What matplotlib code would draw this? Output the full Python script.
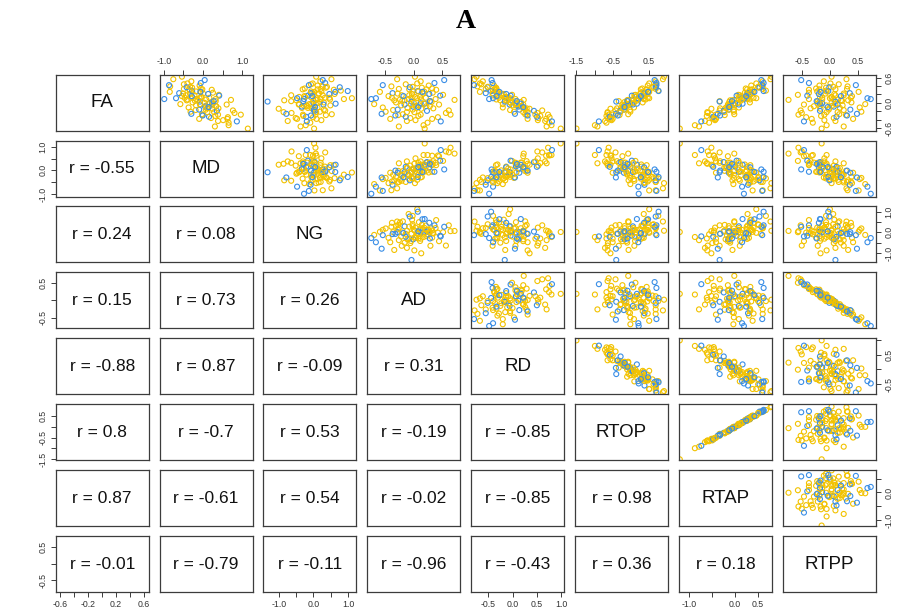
import matplotlib
matplotlib.use("Agg")
import matplotlib.pyplot as plt

# ---------------- data ----------------
var_names = ["FA", "MD", "NG", "AD", "RD", "RTOP", "RTAP", "RTPP"]

# 0 = yellow group, 1 = blue group
group = [0] * 60 + [1] * 20 + [0] * 20 + [1] * 5

FA = [0.12, -0.31, 0.33, -0.04, 0.21, -0.17, 0.46, -0.43, 0.02, 0.24,
      -0.18, 0.16, -0.53, 0.29, -0.11, 0.41, -0.27, 0.06, -0.34, 0.56,
      -0.07, 0.19, -0.38, 0.09, 0.07, -0.22, 0.36, -0.08, 0.26, -0.61,
      0.14, -0.29, 0.44, -0.13, 0.01, 0.31, -0.47, 0.18, -0.03, 0.11,
      -0.24, 0.39, -0.12, 0.27, -0.36, 0.04, 0.51, -0.21, 0.13, -0.06,
      0.34, -0.41, 0.06, 0.22, -0.14, 0.62, -0.28, 0.08, -0.56, 0.32,
      -0.01, 0.23, -0.19, 0.47, -0.04, 0.11, -0.33, 0.17, 0.37, -0.09,
      0.21, -0.26, 0.54, 0.03, -0.44, 0.28, -0.16, 0.42, -0.02, 0.09,
      0.08, -0.12, 0.18, -0.02, 0.27, -0.22, 0.05, -0.08, 0.14, -0.16,
      0.32, -0.03, 0.09, -0.28, 0.22, 0.00, -0.06, 0.38, -0.38, 0.12,
      -0.10, 0.16, 0.04, -0.30, 0.26]

MD = [0.16, 0.31, -0.49, 0.60, -0.33, -0.19, -0.40, 0.38, 0.22, 0.25,
      0.76, -0.54, 0.65, -0.34, -0.37, -0.09, -0.03, -0.14, 0.63, -0.76,
      0.07, 0.40, -0.10, -0.18, 0.71, 0.28, -0.28, 0.33, -0.85, 1.14,
      -0.04, -0.02, -0.49, 0.39, -0.27, 0.22, 0.65, -0.44, -0.58, -0.09,
      0.80, -0.84, 0.10, -0.06, 0.20, 0.32, -0.30, -0.32, -0.28, 0.22,
      -0.06, 0.51, -0.42, 0.00, 0.24, -0.54, 0.96, -0.40, 0.30, -0.35,
      0.16, -0.61, 0.35, -0.06, -0.07, -0.69, 0.15, 0.41, -0.42, 0.05,
      0.13, -0.30, 0.04, -0.08, 0.86, -0.28, -0.10, -0.87, 0.24, -0.99,
      0.08, 0.12, -0.22, 0.25, -0.18, 0.11, -0.21, 0.33, -0.05, 0.07,
      -0.02, -0.08, 0.32, 0.38, -0.51, 0.04, -0.18, -0.33, 0.62, -0.47,
      0.14, -0.29, 0.27, -0.01, -0.07]

NG = [0.33, -0.29, 0.21, -0.42, 0.61, 0.01, -0.02, -0.74, 0.20, -0.03,
      0.34, -0.26, -0.22, 0.79, 0.12, 0.12, 0.53, -0.49, -0.01, 0.52,
      -0.27, 0.01, -0.47, 0.88, 0.07, -0.86, 0.36, -0.18, 0.03, 0.02,
      -0.41, 0.36, -0.07, -0.05, 0.30, 0.59, -0.09, -0.64, -0.12, 1.11,
      -0.63, 0.27, -0.33, 0.23, -0.51, -0.64, 0.20, 0.19, -0.06, 0.49,
      -0.25, 0.23, -0.84, 0.16, -1.00, 0.08, 0.06, 0.48, -0.37, -0.31,
      0.00, -0.08, 0.04, 0.34, 0.29, -0.47, -0.21, -0.16, 0.76, -0.33,
      0.46, -0.78, 0.27, -1.32, -0.19, 0.99, 0.01, -0.13, 0.64, -0.27,
      0.12, -0.16, 0.27, -0.06, -0.07, 0.08, 0.00, 0.03, -0.24, 0.30,
      0.12, -0.41, 0.21, -0.30, 0.15, 0.12, -0.20, 0.39, 0.09, 0.46,
      0.05, -0.03, -0.29, -0.07, 0.63]

AD = [0.21, 0.08, -0.26, 0.44, -0.03, -0.36, 0.06, -0.12, 0.31, 0.33,
      0.61, -0.44, 0.17, -0.02, -0.54, 0.26, -0.19, -0.16, 0.42, -0.29,
      0.04, 0.51, -0.41, -0.09, 0.71, 0.01, 0.14, 0.22, -0.59, 0.19,
      0.11, -0.27, -0.14, 0.34, -0.31, 0.39, 0.24, -0.21, -0.69, 0.06,
      0.56, -0.39, -0.11, 0.18, -0.06, 0.29, 0.12, -0.49, -0.04, 0.09,
      0.32, 0.03, -0.34, 0.16, 0.13, 0.02, 0.64, -0.24, -0.26, -0.08,
      0.12, -0.37, 0.23, 0.36, -0.16, -0.66, -0.14, 0.46, -0.07, -0.01,
      0.27, -0.56, 0.53, -0.04, 0.47, 0.07, -0.28, -0.54, 0.19, -0.74,
      0.12, 0.05, -0.08, 0.18, 0.08, -0.12, -0.20, 0.28, 0.02, -0.02,
      0.22, -0.05, 0.38, 0.12, -0.28, 0.00, -0.22, -0.02, 0.32, -0.38,
      0.08, -0.18, 0.28, -0.32, 0.15]

RD = [-0.13, 0.57, -0.55, 0.22, -0.18, -0.05, -0.67, 0.67, 0.17, -0.31,
      0.61, -0.31, 0.80, -0.40, -0.20, -0.38, 0.26, -0.25, 0.76, -0.78,
      0.13, -0.01, 0.31, -0.08, 0.23, 0.31, -0.34, 0.17, -0.67, 0.99,
      -0.13, 0.29, -0.64, 0.29, -0.05, -0.34, 0.75, -0.41, -0.20, -0.05,
      0.51, -0.72, 0.22, -0.33, 0.53, 0.06, -0.61, 0.03, -0.13, 0.07,
      -0.33, 0.52, -0.15, -0.23, 0.35, -0.74, 0.73, -0.33, 0.70, -0.36,
      0.07, -0.55, 0.44, -0.41, -0.06, -0.40, 0.50, -0.04, -0.51, 0.12,
      -0.13, 0.05, -0.43, -0.16, 0.81, -0.44, 0.14, -0.79, 0.17, -0.48,
      -0.09, 0.24, -0.23, 0.09, -0.30, 0.22, -0.11, 0.19, -0.16, 0.26,
      -0.37, 0.08, 0.06, 0.47, -0.40, -0.04, 0.00, -0.51, 0.69, -0.28,
      0.22, -0.33, 0.09, 0.31, -0.27]

RTOP = [0.30, -0.67, 0.69, -0.23, 0.46, -0.02, 0.51, -0.71, -0.17, 0.29,
        -0.42, 0.36, -0.99, 0.76, 0.09, 0.47, -0.07, -0.10, -0.54, 0.89,
        -0.20, 0.13, -0.50, 0.36, -0.07, -0.64, 0.60, -0.15, 0.51, -1.50,
        0.12, -0.31, 0.69, -0.38, 0.33, 0.44, -0.67, 0.10, -0.01, 0.51,
        -0.64, 0.69, -0.27, 0.49, -0.63, -0.33, 0.69, -0.01, 0.28, -0.06,
        0.32, -0.53, -0.06, 0.26, -0.56, 0.92, -0.61, 0.41, -0.92, 0.28,
        -0.01, 0.38, -0.28, 0.71, 0.06, 0.21, -0.58, 0.03, 0.69, -0.17,
        0.37, -0.41, 0.66, -0.40, -0.88, 0.77, -0.19, 0.71, 0.17, 0.22,
        0.17, -0.21, 0.33, -0.04, 0.35, -0.29, 0.16, -0.21, 0.12, -0.17,
        0.44, -0.12, 0.07, -0.50, 0.39, 0.09, -0.10, 0.63, -0.56, 0.47,
        -0.17, 0.28, -0.09, -0.36, 0.48]

RTAP = [0.28, -0.61, 0.61, -0.15, 0.36, -0.02, 0.47, -0.65, -0.12, 0.22,
        -0.33, 0.31, -0.87, 0.68, 0.09, 0.36, -0.01, -0.10, -0.46, 0.78,
        -0.13, 0.08, -0.41, 0.28, -0.01, -0.60, 0.52, -0.10, 0.39, -1.20,
        0.12, -0.22, 0.57, -0.32, 0.33, 0.34, -0.56, 0.11, -0.03, 0.47,
        -0.59, 0.61, -0.20, 0.41, -0.49, -0.33, 0.61, -0.02, 0.25, -0.01,
        0.24, -0.43, -0.05, 0.26, -0.51, 0.80, -0.51, 0.33, -0.78, 0.27,
        0.01, 0.29, -0.24, 0.63, 0.09, 0.16, -0.47, 0.04, 0.54, -0.14,
        0.34, -0.37, 0.58, -0.33, -0.73, 0.63, -0.13, 0.60, 0.17, 0.20,
        0.16, -0.17, 0.26, -0.03, 0.31, -0.23, 0.13, -0.15, 0.12, -0.13,
        0.38, -0.11, 0.09, -0.41, 0.34, 0.07, -0.09, 0.51, -0.45, 0.41,
        -0.12, 0.25, -0.06, -0.32, 0.43]

RTPP = [-0.14, -0.16, 0.31, -0.47, 0.08, 0.25, 0.01, 0.10, -0.19, -0.38,
        -0.53, 0.40, -0.06, -0.07, 0.54, -0.19, 0.17, 0.20, -0.43, 0.30,
        0.04, -0.58, 0.42, 0.06, -0.75, -0.06, -0.07, -0.19, 0.52, -0.15,
        -0.18, 0.29, 0.16, -0.35, 0.39, -0.38, -0.31, 0.25, 0.64, 0.00,
        -0.51, 0.32, 0.18, -0.23, 0.07, -0.22, -0.11, 0.57, 0.03, -0.07,
        -0.25, -0.10, 0.33, -0.08, -0.17, 0.03, -0.57, 0.15, 0.25, 0.10,
        -0.14, 0.36, -0.18, -0.38, 0.14, 0.68, 0.12, -0.41, -0.01, 0.07,
        -0.20, 0.49, -0.52, 0.10, -0.47, -0.03, 0.37, 0.47, -0.18, 0.74,
        -0.14, -0.01, 0.10, -0.22, -0.06, 0.14, 0.22, -0.29, 0.03, -0.02,
        -0.19, 0.10, -0.38, -0.10, 0.25, 0.03, 0.23, 0.06, -0.33, 0.38,
        -0.04, 0.20, -0.24, 0.31, -0.17]

# correlation labels of the lower panels (row variable vs column variable)
r_values = [
    [],
    [-0.55],
    [0.24, 0.08],
    [0.15, 0.73, 0.26],
    [-0.88, 0.87, -0.09, 0.31],
    [0.8, -0.7, 0.53, -0.19, -0.85],
    [0.87, -0.61, 0.54, -0.02, -0.85, 0.98],
    [-0.01, -0.79, -0.11, -0.96, -0.43, 0.36, 0.18],
]

# axis ticks per variable
tick_values = [
    [-0.6, -0.4, -0.2, 0.0, 0.2, 0.4, 0.6],
    [-1.0, -0.5, 0.0, 0.5, 1.0],
    [-1.0, -0.5, 0.0, 0.5, 1.0],
    [-0.5, 0.0, 0.5],
    [-0.5, 0.0, 0.5, 1.0],
    [-1.5, -1.0, -0.5, 0.0, 0.5],
    [-1.0, -0.5, 0.0, 0.5],
    [-0.5, 0.0, 0.5],
]
x_tick_labels = [
    ["-0.6", "", "-0.2", "", "0.2", "", "0.6"],
    ["-1.0", "", "0.0", "", "1.0"],
    ["-1.0", "", "0.0", "", "1.0"],
    ["-0.5", "0.0", "0.5"],
    ["-0.5", "0.0", "0.5", "1.0"],
    ["-1.5", "", "-0.5", "", "0.5"],
    ["-1.0", "", "0.0", "0.5"],
    ["-0.5", "0.0", "0.5"],
]
y_tick_labels = [
    ["-0.6", "", "", "0.0", "", "", "0.6"],
    ["-1.0", "", "0.0", "", "1.0"],
    ["-1.0", "", "0.0", "", "1.0"],
    ["-0.5", "", "0.5"],
    ["-0.5", "", "0.5", ""],
    ["-1.5", "", "-0.5", "", "0.5"],
    ["-1.0", "", "0.0", ""],
    ["-0.5", "", "0.5"],
]

# ---------------- layout / style ----------------
axis_limits = [(-0.66, 0.667), (-1.11, 1.26), (-1.44, 1.24), (-0.81, 0.81),
               (-0.85, 1.06), (-1.54, 1.03), (-1.22, 0.81), (-0.855, 0.83)]
group_colors = ["#F2C200", "#3A8EE6"]
box_color = "#3c3c3c"
W, H = 897, 615
left0, col_pitch, panel_w = 55.7, 103.86, 93.0
top0, row_pitch, panel_h = 74.7, 65.9, 56.0

plt.rcParams["font.family"] = ["Liberation Sans", "DejaVu Sans"]

variables = [FA, MD, NG, AD, RD, RTOP, RTAP, RTPP]
n = len(var_names)
point_colors = [group_colors[g] for g in group]

fig = plt.figure(figsize=(W / 100, H / 100), dpi=100)
fig.patch.set_facecolor("white")

for i in range(n):          # row -> y variable
    for j in range(n):      # column -> x variable
        left = (left0 + j * col_pitch) / W
        bottom = 1 - (top0 + i * row_pitch + panel_h) / H
        ax = fig.add_axes([left, bottom, panel_w / W, panel_h / H])
        ax.set_xlim(*axis_limits[j])
        ax.set_ylim(*axis_limits[i])
        for s in ax.spines.values():
            s.set_color(box_color)
            s.set_linewidth(0.9)
        ax.tick_params(which="both", direction="out", length=3.6, width=0.7,
                       color=box_color, labelsize=6.3, labelcolor="#333333", pad=2.5)
        ax.set_xticks([])
        ax.set_yticks([])

        if i < j:
            ax.scatter(variables[j], variables[i], s=13, facecolors="none",
                       edgecolors=point_colors, linewidths=0.8)
        elif i == j:
            ax.text(0.5, 0.5, var_names[i], transform=ax.transAxes,
                    ha="center", va="center", fontsize=13.5, color="#111111")
        else:
            ax.text(0.5, 0.5, "r = " + str(r_values[i][j]), transform=ax.transAxes,
                    ha="center", va="center", fontsize=12.5, color="#111111")

        # R pairs() alternating axes
        if i == 0 and j % 2 == 1:
            ax.xaxis.set_ticks_position("top")
            ax.set_xticks(tick_values[j])
            ax.set_xticklabels(x_tick_labels[j])
        if i == n - 1 and j % 2 == 0:
            ax.xaxis.set_ticks_position("bottom")
            ax.set_xticks(tick_values[j])
            ax.set_xticklabels(x_tick_labels[j])
        if j == 0 and i % 2 == 1:
            ax.yaxis.set_ticks_position("left")
            ax.set_yticks(tick_values[i])
            ax.set_yticklabels(y_tick_labels[i], rotation=90, va="center")
        if j == n - 1 and i % 2 == 0:
            ax.yaxis.set_ticks_position("right")
            ax.set_yticks(tick_values[i])
            ax.set_yticklabels(y_tick_labels[i], rotation=90, va="center")

fig.text((left0 + (left0 + 7 * col_pitch + panel_w)) / 2 / W, 1 - 22 / H, "A",
         ha="center", va="center", fontsize=20, fontweight="bold",
         family=["Liberation Serif", "DejaVu Serif"])

fig.savefig("out.png", dpi=100, facecolor="white")
